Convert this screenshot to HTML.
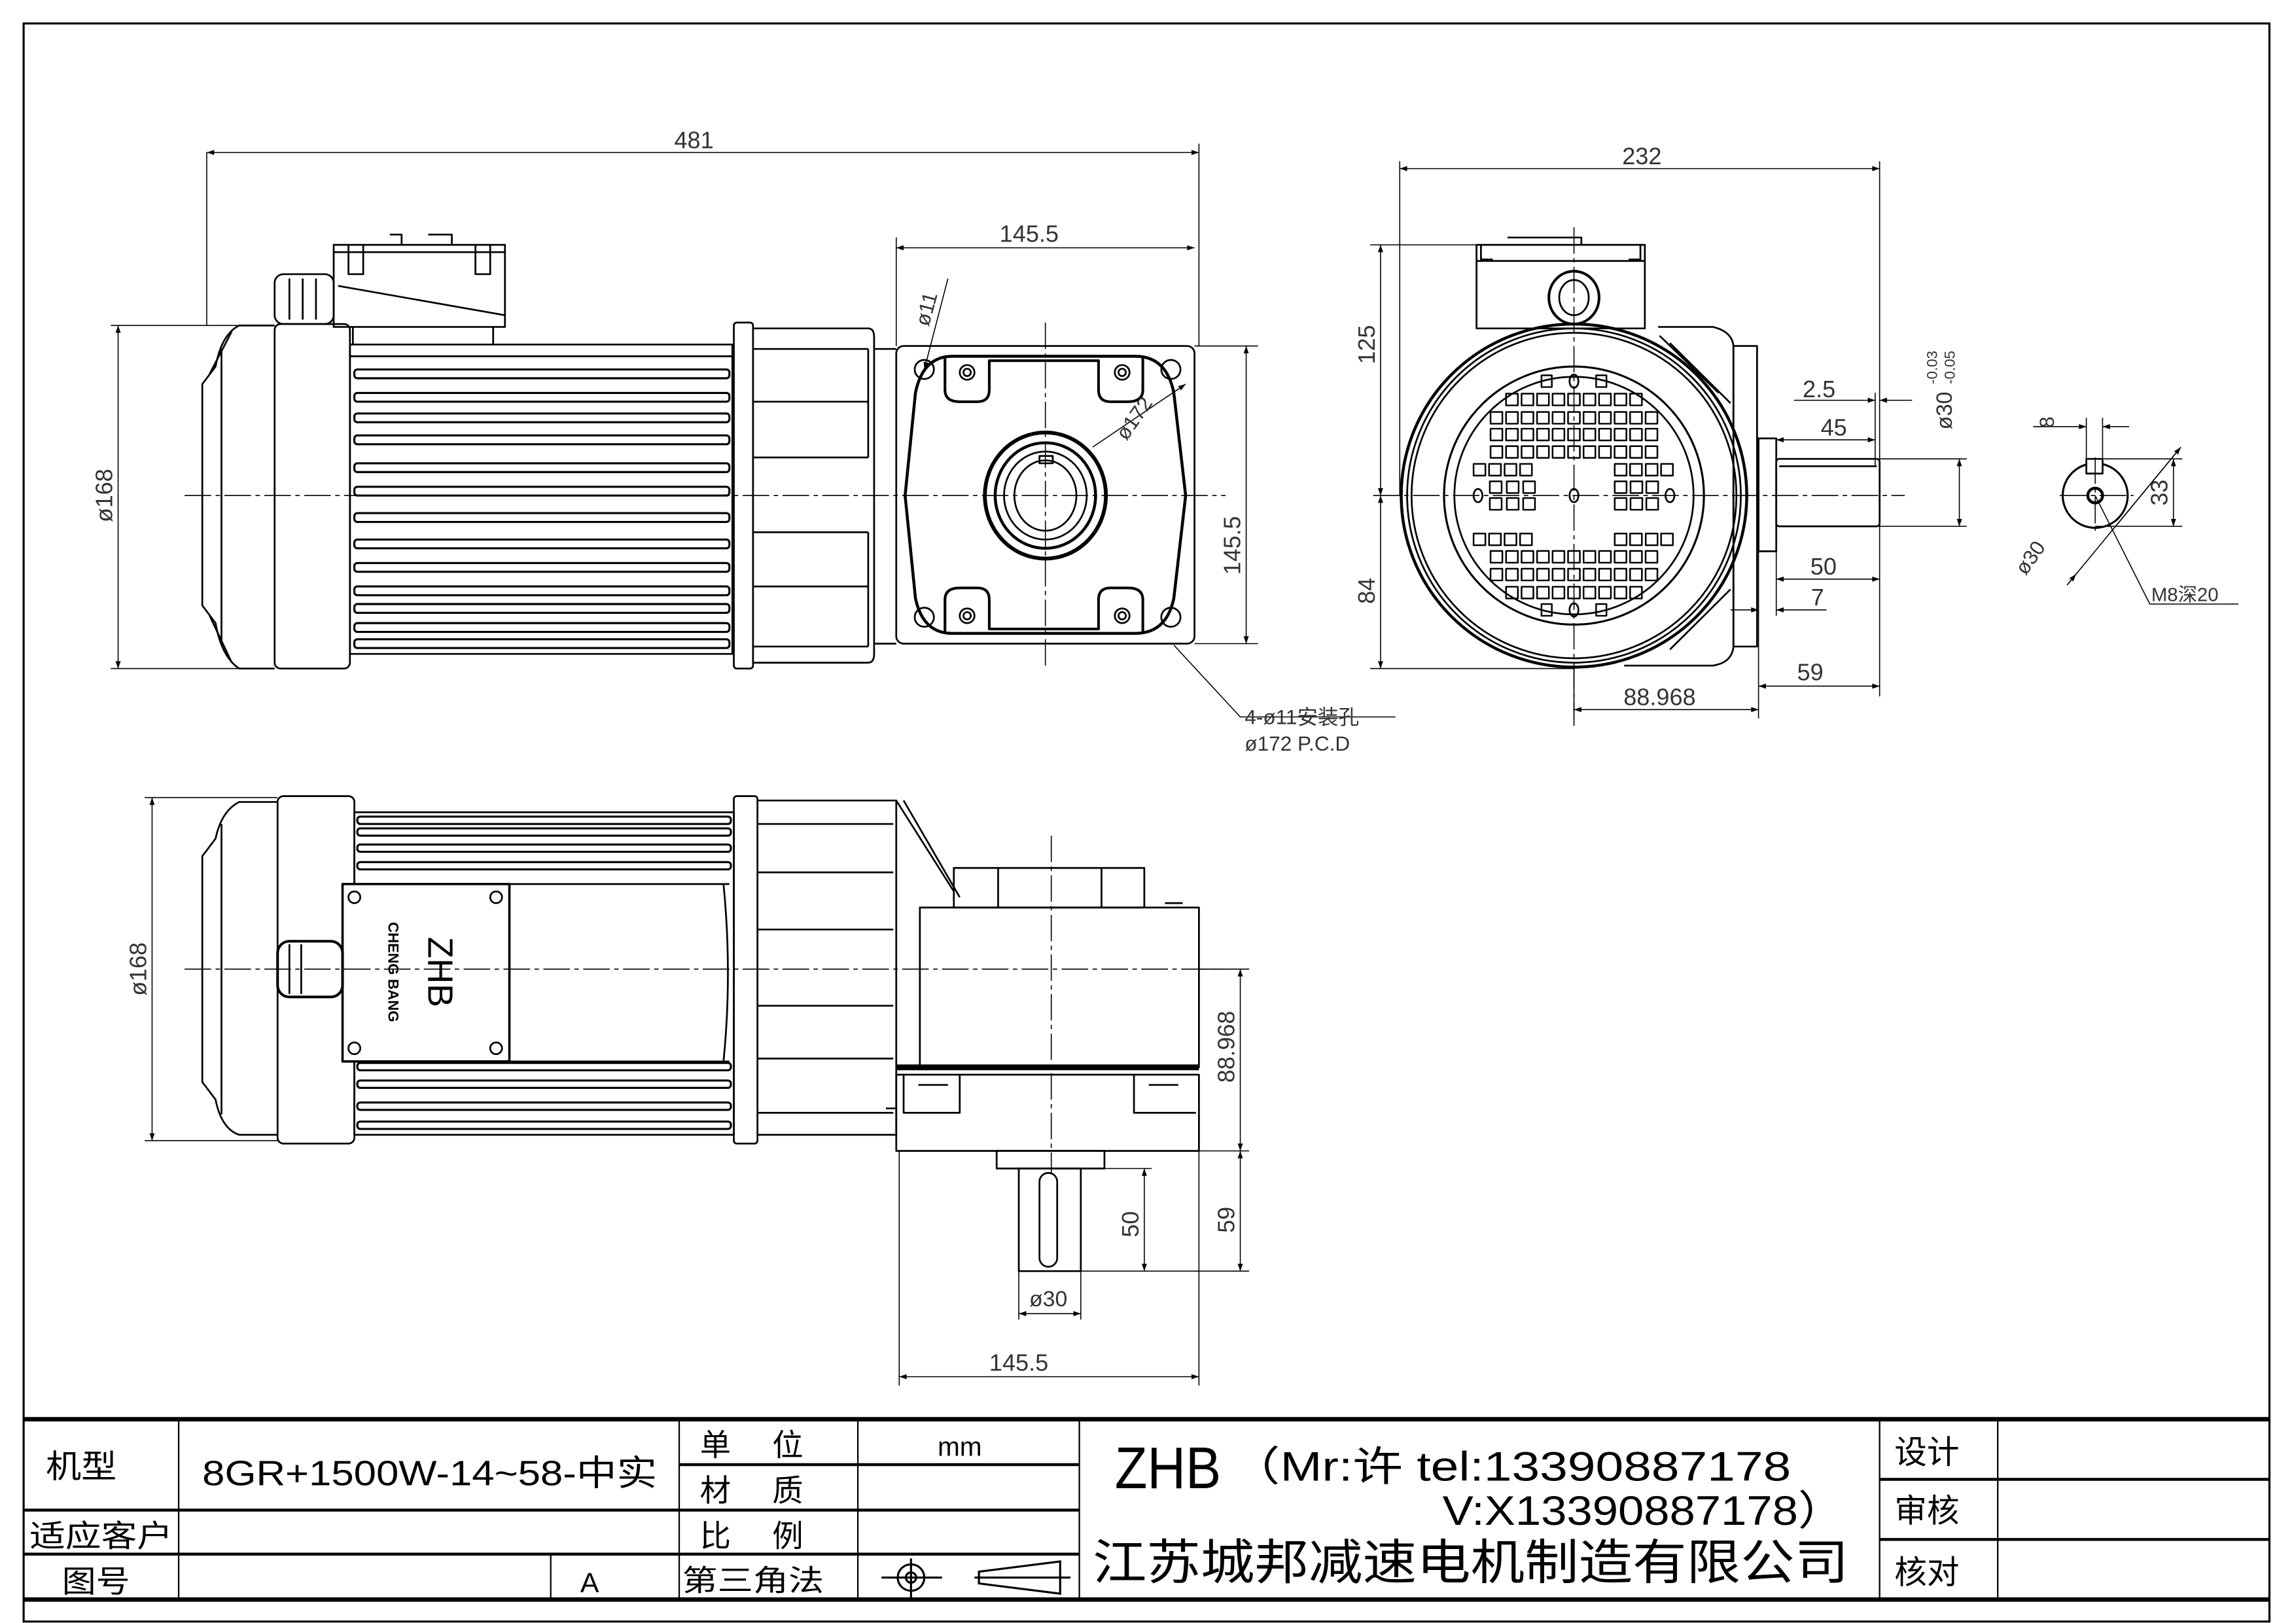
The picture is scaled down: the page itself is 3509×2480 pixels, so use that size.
<!DOCTYPE html>
<html><head><meta charset="utf-8"><style>
html,body{margin:0;padding:0;background:#fff}
svg{display:block}
text{font-family:"Liberation Sans","Noto Sans CJK SC",sans-serif}
</style></head><body>
<svg width="3509" height="2480" viewBox="0 0 1555 1107" preserveAspectRatio="none" xmlns="http://www.w3.org/2000/svg">
<defs>
<marker id="a" viewBox="0 0 10 10" refX="10" refY="5" markerWidth="9" markerHeight="5" orient="auto-start-reverse" markerUnits="userSpaceOnUse"><path d="M0,1.5L10,5L0,8.5z" fill="#000"/></marker>
</defs>
<rect width="1555" height="1107" fill="#fff"/>
<!-- border -->
<rect x="16" y="16" width="1521" height="1090" fill="none" stroke="#000" stroke-width="1.4"/>

<g fill="none" stroke="#000" stroke-width="1.2" stroke-linejoin="round">
<!-- ============ TOP-LEFT VIEW ============ -->
<path d="M186,222 L162,222 Q150,228 146,250 L137,262 L137,413 L146,425 Q150,448 162,456 L186,456"/>
<path d="M150,238 L150,440 M157,226 L142,255 M157,452 L142,420"/>
<rect x="186" y="221" width="51" height="235" rx="4"/>
<rect x="186" y="187" width="40" height="34" rx="6"/>
<path d="M196,190 v28 M205,190 v28 M214,190 v28"/>
<rect x="226" y="167" width="116" height="56"/>
<path d="M226,172 h116 M229,195 L342,215 M236,167 v20 h10 v-20 M322,167 v20 h10 v-20 M264,160 h8 v7 M290,160 h16 v7"/>
<path d="M239,223 v12 M334,223 v12"/>
<rect x="237" y="235" width="259" height="211"/>
<path d="M237,243 h259"/>
<g stroke-width="1.4">
<rect x="240" y="252" width="254" height="6" rx="2"/><rect x="240" y="268" width="254" height="6" rx="2"/>
<rect x="240" y="282" width="254" height="6" rx="2"/><rect x="240" y="297" width="254" height="6" rx="2"/>
<rect x="240" y="316" width="254" height="6" rx="2"/><rect x="240" y="332" width="254" height="6" rx="2"/>
<rect x="240" y="350" width="254" height="6" rx="2"/><rect x="240" y="368" width="254" height="6" rx="2"/>
<rect x="240" y="384" width="254" height="6" rx="2"/><rect x="240" y="400" width="254" height="6" rx="2"/>
<rect x="240" y="412" width="254" height="6" rx="2"/><rect x="240" y="425" width="254" height="6" rx="2"/>
<rect x="240" y="436" width="254" height="6" rx="2"/>
</g>
<rect x="497" y="220" width="13" height="236" rx="2"/>
<path d="M510,224 H588 Q592,224 592,230 V238 H607 M510,452 H588 Q592,452 592,446 V439 H607 M592,238 V439"/>
<path d="M510,238 H588 M510,274 H588 M510,312 H588 M510,363 H588 M510,400 H588 M510,441 H588 M588,238 V312 M588,363 V441"/>
<rect x="607" y="236" width="202" height="203" rx="5"/>
<path d="M645,243 L769,243 Q790,243 795,268 L803,338 L795,408 Q790,432 769,432 L645,432 Q625,432 620,408 L613,338 L620,268 Q625,243 645,243 Z" stroke-width="2"/>
<path d="M640,244 v22 q0,8 10,8 h12 q8,0 8,-8 v-20 h74 v20 q0,8 8,8 h12 q10,0 10,-8 v-22 M640,431 v-22 q0,-8 10,-8 h12 q8,0 8,8 v20 h74 v-20 q0,-8 8,-8 h12 q10,0 10,8 v22" stroke-width="1.8"/>
<circle cx="626" cy="252" r="6.5"/><circle cx="793" cy="252" r="6.5"/>
<circle cx="626" cy="421" r="6.5"/><circle cx="793" cy="421" r="6.5"/>
<circle cx="655" cy="254" r="5"/><circle cx="760" cy="254" r="5"/><circle cx="655" cy="420" r="5"/><circle cx="760" cy="420" r="5"/>
<circle cx="655" cy="254" r="2.5"/><circle cx="760" cy="254" r="2.5"/><circle cx="655" cy="420" r="2.5"/><circle cx="760" cy="420" r="2.5"/>
<ellipse cx="708" cy="338" rx="41" ry="43" stroke-width="2.6"/>
<ellipse cx="708" cy="338" rx="34" ry="36" stroke-width="2"/>
<ellipse cx="708" cy="338" rx="28" ry="30"/>
<ellipse cx="708" cy="338" rx="21" ry="24"/>
<rect x="704" y="311" width="9" height="5"/>

<!-- ============ RIGHT VIEW ============ -->
<path d="M1123,223 H1160 Q1173,226 1174,236 V441 Q1173,452 1160,454 H1100"/>
<path d="M1131,234 L1172,275 M1131,443 L1172,402 M1124,229 L1164,268"/>
<rect x="1174" y="236" width="16" height="205"/>
<rect x="1191" y="299" width="12" height="77"/>
<rect x="1203" y="313" width="70" height="46" rx="2"/>
<path d="M1205,318 h66"/>
<ellipse cx="1066" cy="338" rx="117" ry="117" stroke-width="2"/>
<ellipse cx="1066" cy="338" rx="113" ry="114"/>
<ellipse cx="1066" cy="338" rx="110" ry="111"/>
<ellipse cx="1066" cy="338" rx="88" ry="88" stroke-width="1.4"/>
<ellipse cx="1066" cy="338" rx="81" ry="81"/>
<rect x="1000" y="167" width="114" height="57"/>
<path d="M1000,178 h114 M1003,167 v10 h8 M1111,167 v10 h-8 M1021,162 h50 v5"/>
<ellipse cx="1066" cy="203" rx="17" ry="18" stroke-width="1.8"/>
<ellipse cx="1066" cy="203" rx="10" ry="12"/>
<path stroke-width="1.1" d="M1009.5 281h8v8h-8zM1020 281h8v8h-8zM1030.5 281h8v8h-8zM1041 281h8v8h-8zM1051.5 281h8v8h-8zM1062 281h8v8h-8zM1072.5 281h8v8h-8zM1083 281h8v8h-8zM1093.5 281h8v8h-8zM1104 281h8v8h-8zM1114.5 281h8v8h-8z
M1009.5 292.4h8v8h-8zM1020 292.4h8v8h-8zM1030.5 292.4h8v8h-8zM1041 292.4h8v8h-8zM1051.5 292.4h8v8h-8zM1062 292.4h8v8h-8zM1072.5 292.4h8v8h-8zM1083 292.4h8v8h-8zM1093.5 292.4h8v8h-8zM1104 292.4h8v8h-8zM1114.5 292.4h8v8h-8z
M1009.5 304.3h8v8h-8zM1020 304.3h8v8h-8zM1030.5 304.3h8v8h-8zM1041 304.3h8v8h-8zM1051.5 304.3h8v8h-8zM1062 304.3h8v8h-8zM1072.5 304.3h8v8h-8zM1083 304.3h8v8h-8zM1093.5 304.3h8v8h-8zM1104 304.3h8v8h-8zM1114.5 304.3h8v8h-8z
M1009.5 375.8h8v8h-8zM1020 375.8h8v8h-8zM1030.5 375.8h8v8h-8zM1041 375.8h8v8h-8zM1051.5 375.8h8v8h-8zM1062 375.8h8v8h-8zM1072.5 375.8h8v8h-8zM1083 375.8h8v8h-8zM1093.5 375.8h8v8h-8zM1104 375.8h8v8h-8zM1114.5 375.8h8v8h-8z
M1009.5 387.9h8v8h-8zM1020 387.9h8v8h-8zM1030.5 387.9h8v8h-8zM1041 387.9h8v8h-8zM1051.5 387.9h8v8h-8zM1062 387.9h8v8h-8zM1072.5 387.9h8v8h-8zM1083 387.9h8v8h-8zM1093.5 387.9h8v8h-8zM1104 387.9h8v8h-8zM1114.5 387.9h8v8h-8z
M1020 268.5h8v8h-8zM1030.5 268.5h8v8h-8zM1041 268.5h8v8h-8zM1051.5 268.5h8v8h-8zM1062 268.5h8v8h-8zM1072.5 268.5h8v8h-8zM1083 268.5h8v8h-8zM1093.5 268.5h8v8h-8zM1104 268.5h8v8h-8z
M1020 400.2h8v8h-8zM1030.5 400.2h8v8h-8zM1041 400.2h8v8h-8zM1051.5 400.2h8v8h-8zM1062 400.2h8v8h-8zM1072.5 400.2h8v8h-8zM1083 400.2h8v8h-8zM1093.5 400.2h8v8h-8zM1104 400.2h8v8h-8z
M1044 256h7v8h-7zM1081 256h7v8h-7zM1044 412h7v8h-7zM1081 412h7v8h-7z
M998 316.4h8v8h-8zM1008.5 316.4h8v8h-8zM1019 316.4h8v8h-8zM1029.5 316.4h8v8h-8zM1093.6 316.4h8v8h-8zM1104 316.4h8v8h-8zM1114.6 316.4h8v8h-8zM1125 316.4h8v8h-8z
M998 363.9h8v8h-8zM1008.5 363.9h8v8h-8zM1019 363.9h8v8h-8zM1029.5 363.9h8v8h-8zM1093.6 363.9h8v8h-8zM1104 363.9h8v8h-8zM1114.6 363.9h8v8h-8zM1125 363.9h8v8h-8z
M1009 328.3h8v8h-8zM1020.5 328.3h8v8h-8zM1031.6 328.3h8v8h-8zM1093.6 328.3h8v8h-8zM1104.3 328.3h8v8h-8zM1115 328.3h8v8h-8z
M1009 339.7h8v8h-8zM1020.5 339.7h8v8h-8zM1031.6 339.7h8v8h-8zM1093.6 339.7h8v8h-8zM1104.3 339.7h8v8h-8zM1115 339.7h8v8h-8z"/>
<ellipse cx="1066" cy="260" rx="3" ry="4.5"/><ellipse cx="1066" cy="416" rx="3" ry="4.5"/>
<ellipse cx="1066" cy="338" rx="3" ry="4.5"/><ellipse cx="1001" cy="338" rx="3" ry="4.5"/><ellipse cx="1131" cy="338" rx="3" ry="4.5"/>

<!-- small shaft end -->
<ellipse cx="1419" cy="338" rx="22" ry="22" stroke-width="1.4"/>
<circle cx="1419" cy="338" r="5" stroke-width="2"/>
<rect x="1413" y="313" width="11" height="10" fill="#fff"/>

<!-- ============ BOTTOM VIEW ============ -->
<path d="M188,547 L162,547 Q150,553 146,572 L137,584 L137,738 L146,750 Q150,770 162,774 L188,774"/>
<path d="M150,562 L150,760"/>
<rect x="188" y="543" width="52" height="237" rx="4"/>
<rect x="240" y="554" width="257" height="220"/>
<g stroke-width="1.4">
<rect x="242" y="557" width="253" height="5" rx="2"/><rect x="242" y="565" width="253" height="5" rx="2"/>
<rect x="242" y="576" width="253" height="5" rx="2"/><rect x="242" y="588" width="253" height="5" rx="2"/>
<rect x="242" y="725" width="253" height="5" rx="2"/><rect x="242" y="737" width="253" height="5" rx="2"/>
<rect x="242" y="752" width="253" height="5" rx="2"/><rect x="242" y="765" width="253" height="5" rx="2"/>
</g>
<path d="M345,603 H494 M345,724 H494 M490,603 Q496,664 490,724"/>
<rect x="232" y="603" width="113" height="121" fill="#fff" stroke-width="1.6"/>
<circle cx="240" cy="612" r="4"/><circle cx="336" cy="612" r="4"/><circle cx="240" cy="715" r="4"/><circle cx="336" cy="715" r="4"/>
<rect x="188" y="642" width="44" height="38" rx="8" stroke-width="1.8"/>
<path d="M196,644 v34 M204,644 v34"/>
<rect x="497" y="543" width="16" height="237" rx="2"/>
<path d="M513,546 H607 V774 H513 M513,562 H605 M513,595 H605 M513,634 H605 M513,686 H605 M513,722 H605 M513,759 H605"/>
<path d="M607,546 L646,608 M612,546 L650,612 M600,756 H607"/>
<rect x="646" y="592" width="129" height="27"/>
<path d="M676,592 v27 M746,592 v27 M789,616 h12"/>
<rect x="623" y="619" width="189" height="109"/>
<path d="M607,728 H812" stroke-width="4"/>
<path d="M607,733 H812 V785 H607 Z M612,733 v26 h38 v-26 M768,733 v26 h42 M622,740 h20 M778,740 h20"/>
<rect x="675" y="785" width="73" height="12"/>
<rect x="690" y="797" width="42" height="70"/>
<rect x="704" y="800" width="12" height="64" rx="6"/>
</g>

<!-- centerlines -->
<g stroke="#000" stroke-width="0.7" stroke-dasharray="18,3,3,3" fill="none">
<path d="M125,338 H830 M708,220 V456 M930,338 H1290 M1066,155 V495 M1395,338 H1445 M1419,312 V362 M125,661 H830 M712,570 V800"/>
</g>

<!-- dimension lines -->
<g stroke="#000" stroke-width="0.7" fill="none">
<path d="M140,104 V222 M812,98 V236"/>
<path d="M140,104 H812" marker-start="url(#a)" marker-end="url(#a)"/>
<path d="M607,162 V236"/>
<path d="M607,169 H809" marker-start="url(#a)" marker-end="url(#a)"/>
<path d="M75,222 H186 M75,456 H186"/>
<path d="M80,222 V456" marker-start="url(#a)" marker-end="url(#a)"/>
<path d="M809,236 H852 M809,439 H852"/>
<path d="M844,236 V439" marker-start="url(#a)" marker-end="url(#a)"/>
<path d="M626,252 L642,190" marker-start="url(#a)"/>
<path d="M740,305 L803,262" marker-end="url(#a)"/>
<path d="M795,440 L840,489 H945"/>
<!-- right view -->
<path d="M948,110 V338 M1273,110 V475"/>
<path d="M948,115 H1273" marker-start="url(#a)" marker-end="url(#a)"/>
<path d="M928,167 H1000 M928,456 H1066"/>
<path d="M935,167 V338" marker-start="url(#a)" marker-end="url(#a)"/>
<path d="M935,338 V456" marker-start="url(#a)" marker-end="url(#a)"/>
<path d="M1270,268 V318"/>
<path d="M1215,273 H1270" marker-end="url(#a)"/><path d="M1295,273 H1273" marker-end="url(#a)"/>
<path d="M1203,300 H1270" marker-start="url(#a)" marker-end="url(#a)"/>
<path d="M1203,376 V420 M1191,376 V490"/>
<path d="M1273,313 H1332 M1273,359 H1332"/>
<path d="M1327,313 V359" marker-start="url(#a)" marker-end="url(#a)"/>
<path d="M1203,395 H1273" marker-start="url(#a)" marker-end="url(#a)"/>
<path d="M1172,416 H1191" marker-end="url(#a)"/><path d="M1237,416 H1203" marker-end="url(#a)"/>
<path d="M1191,468 H1273" marker-start="url(#a)" marker-end="url(#a)"/>
<path d="M1066,456 V490"/>
<path d="M1066,484 H1191" marker-start="url(#a)" marker-end="url(#a)"/>
<!-- small end -->
<path d="M1413,285 V313 M1424,285 V313"/>
<path d="M1377,291 H1413" marker-end="url(#a)"/><path d="M1442,291 H1424" marker-end="url(#a)"/>
<path d="M1424,313 H1478 M1419,359 H1478"/>
<path d="M1472,313 V359" marker-start="url(#a)" marker-end="url(#a)"/>
<path d="M1400,399 L1477,305"/>
<path d="M1400,399 L1406,391.6" marker-end="url(#a)"/><path d="M1477,305 L1432,360" marker-start="url(#a)"/>
<path d="M1419,338 L1456,412 H1516"/>
<!-- bottom view -->
<path d="M98,544 H188 M98,778 H188"/>
<path d="M103,544 V778" marker-start="url(#a)" marker-end="url(#a)"/>
<path d="M812,661 H846 M812,785 H846 M732,867 H846 M732,797 H780"/>
<path d="M840,661 V785" marker-start="url(#a)" marker-end="url(#a)"/>
<path d="M840,785 V867" marker-start="url(#a)" marker-end="url(#a)"/>
<path d="M775,797 V867" marker-start="url(#a)" marker-end="url(#a)"/>
<path d="M690,867 V900 M732,867 V900"/>
<path d="M690,896 H732" marker-start="url(#a)" marker-end="url(#a)"/>
<path d="M609,785 V945 M812,785 V945"/>
<path d="M609,939 H812" marker-start="url(#a)" marker-end="url(#a)"/>
</g>

<!-- dimension text -->
<g fill="#333" font-size="16">
<text x="470" y="101" text-anchor="middle">481</text>
<text x="697" y="165" text-anchor="middle">145.5</text>
<text transform="translate(76,338) rotate(-90)" text-anchor="middle">ø168</text>
<text transform="translate(840,372) rotate(-90)" text-anchor="middle">145.5</text>
<text transform="translate(632,212) rotate(-75)" text-anchor="middle" font-size="14">ø11</text>
<text transform="translate(772,288) rotate(-55)" text-anchor="middle" font-size="14">ø172</text>
<text x="843" y="494" font-size="14">4-ø11安装孔</text>
<text x="843" y="512" font-size="14">ø172 P.C.D</text>
<text x="1112" y="112" text-anchor="middle">232</text>
<text transform="translate(931,235) rotate(-90)" text-anchor="middle">125</text>
<text transform="translate(931,403) rotate(-90)" text-anchor="middle">84</text>
<text x="1232" y="271" text-anchor="middle">2.5</text>
<text x="1242" y="297" text-anchor="middle">45</text>
<text transform="translate(1322,293) rotate(-90)" font-size="15">ø30</text>
<text transform="translate(1312,262) rotate(-90)" font-size="10">-0.03</text>
<text transform="translate(1324,262) rotate(-90)" font-size="10">-0.05</text>
<text x="1235" y="392" text-anchor="middle">50</text>
<text x="1231" y="413" text-anchor="middle">7</text>
<text x="1226" y="464" text-anchor="middle">59</text>
<text x="1124" y="481" text-anchor="middle">88.968</text>
<text transform="translate(1391,288) rotate(-90)" text-anchor="middle" font-size="14">8</text>
<text transform="translate(1468,336) rotate(-90)" text-anchor="middle">33</text>
<text transform="translate(1372,393) rotate(-55)" font-size="14">ø30</text>
<text x="1457" y="410" font-size="13">M8深20</text>
<text transform="translate(99,661) rotate(-90)" text-anchor="middle">ø168</text>
<text transform="translate(836,714) rotate(-90)" text-anchor="middle">88.968</text>
<text transform="translate(771,835) rotate(-90)" text-anchor="middle">50</text>
<text transform="translate(836,832) rotate(-90)" text-anchor="middle">59</text>
<text x="710" y="891" text-anchor="middle" font-size="15">ø30</text>
<text x="690" y="935" text-anchor="middle">145.5</text>
</g>
<text transform="translate(290,663) rotate(90)" text-anchor="middle" font-size="24" fill="#000">ZHB</text>
<text transform="translate(263,663) rotate(90)" text-anchor="middle" font-size="10" font-weight="bold" fill="#000">CHENG BANG</text>

<!-- ============ TITLE BLOCK ============ -->
<g stroke="#000" fill="none">
<path d="M16,968 H1537 M16,1091 H1537" stroke-width="3"/>
<path d="M121,968 V1091 M460,968 V1091 M581,968 V1091 M731,968 V1091 M1273,968 V1091 M1353,968 V1091 M373,1060 V1091" stroke-width="1"/>
<path d="M16,1030 H460 M16,1060 H731 M460,999 H731 M460,1030 H731 M1273,1009 H1537 M1273,1050 H1537" stroke-width="2"/>
</g>
<g fill="#000">
<text x="31" y="1008" font-size="22" textLength="48" lengthAdjust="spacingAndGlyphs">机型</text>
<text x="137" y="1013" font-size="24" font-family="Liberation Serif,'Noto Serif CJK SC',serif" textLength="308" lengthAdjust="spacingAndGlyphs">8GR+1500W-14~58-中实</text>
<text x="474" y="993" font-size="21">单</text><text x="523" y="993" font-size="21">位</text>
<text x="474" y="1024" font-size="21">材</text><text x="523" y="1024" font-size="21">质</text>
<text x="474" y="1055" font-size="21">比</text><text x="523" y="1055" font-size="21">例</text>
<text x="650" y="993" font-size="18" text-anchor="middle">mm</text>
<text x="20" y="1055" font-size="21" textLength="97" lengthAdjust="spacingAndGlyphs">适应客户</text>
<text x="42" y="1086" font-size="21" textLength="46" lengthAdjust="spacingAndGlyphs">图号</text>
<text x="393" y="1086" font-size="19">A</text>
<text x="462" y="1085" font-size="20" textLength="96" lengthAdjust="spacingAndGlyphs">第三角法</text>
<text x="755" y="1015" font-size="40" textLength="72" lengthAdjust="spacingAndGlyphs">ZHB</text>
<text x="833" y="1010" font-size="28" textLength="380" lengthAdjust="spacingAndGlyphs">（Mr:许 tel:13390887178</text>
<text x="977" y="1040" font-size="28" textLength="272" lengthAdjust="spacingAndGlyphs">V:X13390887178）</text>
<text x="740" y="1077" font-size="33" textLength="512" lengthAdjust="spacingAndGlyphs">江苏城邦减速电机制造有限公司</text>
<text x="1283" y="998" font-size="22">设计</text>
<text x="1283" y="1038" font-size="22">审核</text>
<text x="1283" y="1080" font-size="22">核对</text>
</g>
<g stroke="#000" fill="none" stroke-width="1.4">
<circle cx="617" cy="1076" r="9"/><circle cx="617" cy="1076" r="3.5"/>
<path d="M597,1076 H638 M617,1063 V1090"/>
<path d="M660,1076 H725 M663,1072 L718,1065 V1087 L663,1080 Z"/>
</g>
</svg>
</body></html>
